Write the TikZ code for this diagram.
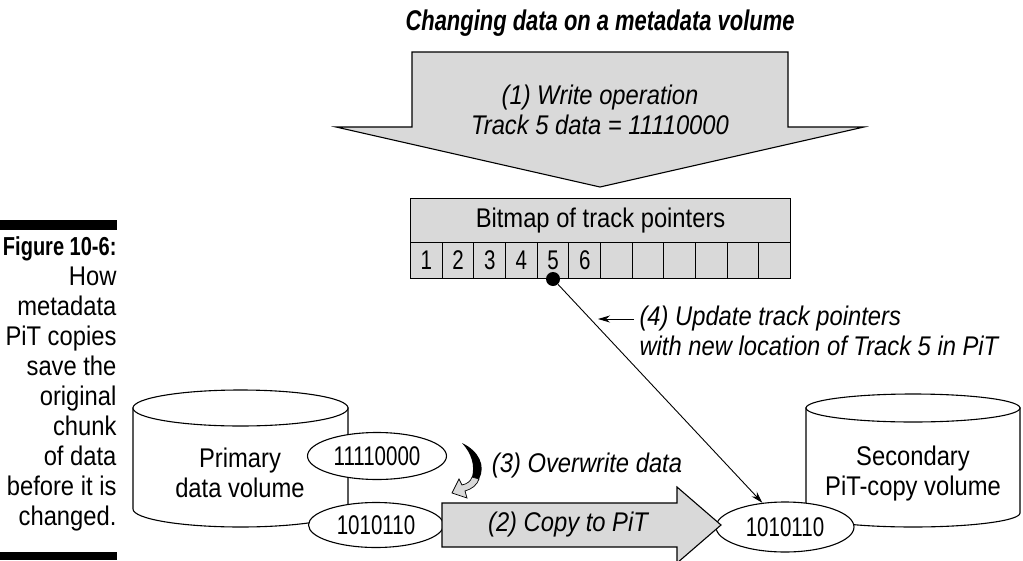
\documentclass[tikz,border=0pt]{standalone}
\usepackage{fontspec}
\setmainfont[FakeStretch=0.88, BoldFeatures={FakeStretch=0.77}, BoldItalicFeatures={FakeStretch=0.77}]{Liberation Sans}
\newfontfamily\digitfont[FakeStretch=0.76]{Liberation Sans}
\usetikzlibrary{shapes.geometric,arrows.meta}
\definecolor{fillgray}{gray}{0.85}

\begin{document}
\begin{tikzpicture}[x=1pt, y=-1pt, >={Stealth[length=12pt,width=7pt]},
  line width=1.1pt,
  label/.style={font=\fontsize{27}{30}\selectfont\itshape, inner sep=0pt},
  plain/.style={font=\fontsize{27}{30}\selectfont, inner sep=0pt},
  chunk/.style={ellipse, draw, fill=white, inner sep=0pt, font=\digitfont\fontsize{27}{30}\selectfont},
  cell/.style={draw, fill=fillgray, minimum width=31.67pt, minimum height=36pt,
    inner sep=0pt, anchor=north west, font=\digitfont\fontsize{27}{30}\selectfont}]

\useasboundingbox (0,0) rectangle (1023,560);

% Title
\node[font=\fontsize{28.5}{30}\selectfont\bfseries\itshape] (title) at (600,23) {Changing data on a metadata volume};

% Write operation arrow
\draw[fill=fillgray] (412,52) -- (788,52) -- (788,127) -- (864,127) -- (600,187) -- (336,127) -- (412,127) -- cycle;
\node[label, align=center] (write) at (600,110) {(1) Write operation\\Track 5 data = 11110000};

% Bitmap of track pointers
\node[draw, fill=fillgray, minimum width=380pt, minimum height=44pt, anchor=north west, plain] (bitmap) at (410,198) {Bitmap of track pointers};
\foreach \i in {1,...,12} {
  \node[cell] (c\i) at ({410+(\i-1)*31.67},242) {\ifnum\i<7 \i\fi};
}
\node[circle, fill=black, minimum size=14pt, inner sep=0pt] (dot) at (553,279) {};

% Primary volume
\draw[fill=white] (133,408) -- (133,509) arc[start angle=180, end angle=0, x radius=107.5, y radius=18] -- (348,408) -- cycle;
\draw[fill=white] (240.5,408) ellipse[x radius=107.5, y radius=18];
\node[plain, align=center] (primary) at (240,473) {Primary\\data volume};
\node[chunk, minimum width=139pt, minimum height=47pt] (new) at (377,456) {11110000};
\node[chunk, minimum width=135pt, minimum height=45pt] (old) at (376,525) {1010110};

% Secondary volume
\draw[fill=white] (806,408) -- (806,513) arc[start angle=180, end angle=0, x radius=107, y radius=14] -- (1020,408) -- cycle;
\draw[fill=white] (913,408) ellipse[x radius=107, y radius=14];
\node[plain, align=center] (secondary) at (913,474) {Secondary\\PiT-copy volume};
\node[chunk, minimum width=138pt, minimum height=50pt] (copy) at (785,527) {1010110};

% Copy to PiT arrow
\draw[fill=fillgray] (442,503) -- (677,503) -- (677,487) -- (721,525) -- (677,563) -- (677,547) -- (442,547) -- cycle;
\node[label] (copylabel) at (568,525) {(2) Copy to PiT};

% Overwrite arrow
\fill (462,443) .. controls (479,451) and (486,466) .. (479,479) -- (472,477) .. controls (475,466) and (472,454) .. (462,443) -- cycle;
\draw[fill=fillgray, line width=0.7pt] (479,479) .. controls (477,485) and (472,489) .. (465,491) -- (467,498) -- (452,493) -- (459,479) -- (462,485) .. controls (467,484) and (471,481) .. (472,477) -- cycle;
\node[label] (overwrite) at (587,466) {(3) Overwrite data};

% Update pointers
\draw[->, line width=0.9pt] (dot) -- (copy);
\coordinate (ptr) at (634,319);
\coordinate (ptrtip) at (598,319);
\draw[->, line width=0.9pt] (ptr) -- (ptrtip);
\node[label, align=left, anchor=west] (update) at (639,331) {(4) Update track pointers\\with new location of Track 5 in PiT};

% Caption
\fill (0,220) rectangle (117,230);
\fill (0,552) rectangle (117,560);
\node[plain, align=right, anchor=north east] (caption) at (117,236) {{\fontsize{26}{30}\selectfont\bfseries Figure 10-6:}\\How\\metadata\\PiT copies\\save the\\original\\chunk\\of data\\before it is\\changed.};

\end{tikzpicture}
\end{document}
